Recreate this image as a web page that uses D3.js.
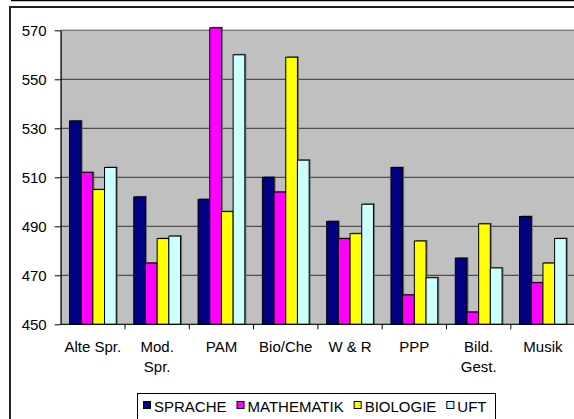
<!DOCTYPE html>
<html>
<head>
<meta charset="utf-8">
<script src="https://cdn.jsdelivr.net/npm/d3@7"></script>
<style>
  body { margin: 0; background: #fff; }
  svg { display: block; font-family: "Liberation Sans", Arial, sans-serif; }
</style>
</head>
<body>
<div id="chart"></div>
<script>
// Data
var categories = ["Alte Spr.", "Mod.\nSpr.", "PAM", "Bio/Che", "W & R", "PPP", "Bild.\nGest.", "Musik"];
var seriesNames = ["SPRACHE", "MATHEMATIK", "BIOLOGIE", "UFT"];
var sprache    = [533, 502, 501, 510, 492, 514, 477, 494];
var mathematik = [512, 475, 571, 504, 485, 462, 455, 467];
var biologie   = [505, 485, 496, 559, 487, 484, 491, 475];
var uft        = [514, 486, 560, 517, 499, 469, 473, 485];
var yTicks = [450, 470, 490, 510, 530, 550, 570];

var seriesValues = [sprache, mathematik, biologie, uft];
var colors = ["#000080", "#ff00ff", "#ffff00", "#ccffff"];

var W = 574, H = 419;
var plot = {left: 60.7, right: 575.1, top: 30.3, bottom: 324.3};

var svg = d3.select("#chart").append("svg")
    .attr("width", W)
    .attr("height", H);

// outer frame lines
svg.append("line")
    .attr("x1", 11).attr("x2", W).attr("y1", 0.5).attr("y2", 0.5)
    .attr("stroke", "#000").attr("stroke-width", 1.5);
svg.append("rect")
    .attr("x", 10).attr("y", 7)
    .attr("width", W + 10).attr("height", H + 10)
    .attr("fill", "#fff")
    .attr("stroke", "#222").attr("stroke-width", 2);

// scales
var x = d3.scaleBand()
    .domain(categories)
    .range([plot.left, plot.right])
    .padding(0);

var catW = x.bandwidth();
var gap = catW * 1.5 / 5.5;
var xs = d3.scaleBand()
    .domain(seriesNames)
    .range([gap / 2, catW - gap / 2])
    .padding(0);

var y = d3.scaleLinear()
    .domain([450, 570])
    .range([plot.bottom, plot.top]);

// plot area
svg.append("rect")
    .attr("x", plot.left).attr("y", plot.top)
    .attr("width", plot.right - plot.left)
    .attr("height", plot.bottom - plot.top)
    .attr("fill", "#c0c0c0")
    .attr("stroke", "#808080");

// gridlines
svg.append("g")
    .selectAll("line")
    .data(yTicks.slice(1))
    .enter().append("line")
    .attr("x1", plot.left).attr("x2", plot.right)
    .attr("y1", function(d) { return y(d); })
    .attr("y2", function(d) { return y(d); })
    .attr("stroke", function(d) { return d === 570 ? "#707070" : "#333"; })
    .attr("stroke-width", 1);

// bars
var groups = svg.append("g")
    .selectAll("g")
    .data(seriesNames)
    .enter().append("g");

groups.each(function(name, si) {
    var g = d3.select(this);
    var vals = seriesValues[si];
    // shadow
    g.selectAll(".shadow")
        .data(vals)
        .enter().append("rect")
        .attr("class", "shadow")
        .attr("x", function(d, i) { return x(categories[i]) + xs(name) + 1.5; })
        .attr("y", function(d) { return y(d) - 1; })
        .attr("width", xs.bandwidth())
        .attr("height", function(d) { return plot.bottom - y(d) + 1; })
        .attr("fill", "#6e6e6e");
    g.selectAll(".bar")
        .data(vals)
        .enter().append("rect")
        .attr("class", "bar")
        .attr("x", function(d, i) { return x(categories[i]) + xs(name); })
        .attr("y", function(d) { return y(d); })
        .attr("width", xs.bandwidth())
        .attr("height", function(d) { return plot.bottom - y(d); })
        .attr("fill", colors[si])
        .attr("stroke", "#000")
        .attr("stroke-width", 1);
});

// y axis
var yAxis = svg.append("g")
    .attr("transform", "translate(" + plot.left + ",0)")
    .call(d3.axisLeft(y).tickValues(yTicks).tickSize(6).tickSizeOuter(0).tickPadding(8));
yAxis.select(".domain").attr("stroke", "#000");
yAxis.selectAll("text")
    .attr("fill", "#000")
    .style("font-size", "15px")
    .style("font-family", "'Liberation Sans', Arial, sans-serif");

// x axis line and ticks at category boundaries
var xAxisG = svg.append("g");
xAxisG.append("line")
    .attr("x1", plot.left).attr("x2", plot.right)
    .attr("y1", plot.bottom).attr("y2", plot.bottom)
    .attr("stroke", "#000");
xAxisG.selectAll(".xtick")
    .data(categories)
    .enter().append("line")
    .attr("class", "xtick")
    .attr("x1", function(d) { return x(d) + catW; })
    .attr("x2", function(d) { return x(d) + catW; })
    .attr("y1", plot.bottom).attr("y2", plot.bottom + 5)
    .attr("stroke", "#000");

var labels = xAxisG.selectAll(".xlabel")
    .data(categories)
    .enter().append("text")
    .attr("class", "xlabel")
    .attr("text-anchor", "middle")
    .attr("font-size", 15)
    .attr("fill", "#000");
labels.each(function(d) {
    var t = d3.select(this);
    d.split("\n").forEach(function(line, i) {
        t.append("tspan")
            .attr("x", x(d) + catW / 2)
            .attr("y", 352 + i * 20)
            .text(line);
    });
});

// legend
var legend = svg.append("g");
legend.append("rect")
    .attr("x", 137.5).attr("y", 393.5)
    .attr("width", 358).attr("height", 40)
    .attr("fill", "#fff")
    .attr("stroke", "#000");

var lx = 143;
seriesNames.forEach(function(name, i) {
    legend.append("rect")
        .attr("x", lx + 0.5).attr("y", 401.5)
        .attr("width", 7).attr("height", 7)
        .attr("fill", colors[i])
        .attr("stroke", "#000");
    var t = legend.append("text")
        .attr("x", lx + 11)
        .attr("y", 412)
        .attr("font-size", 15)
        .attr("fill", "#000")
        .text(name);
    lx += 11 + t.node().getComputedTextLength() + 10;
});
</script>
</body>
</html>
